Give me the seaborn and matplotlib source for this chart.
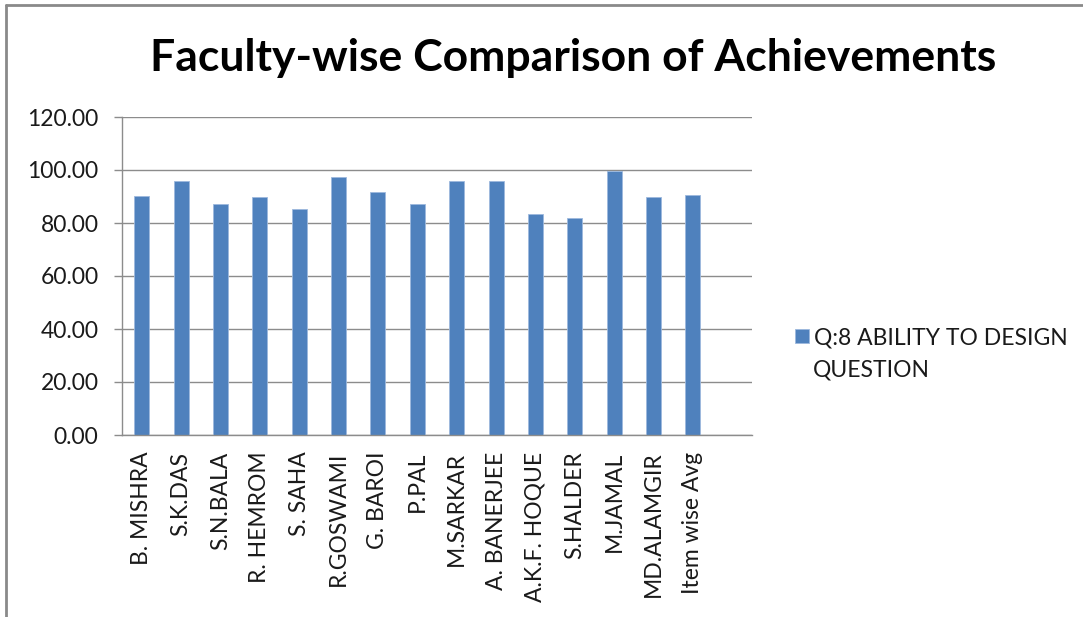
import numpy as np
import pandas as pd
import matplotlib
matplotlib.use('Agg')
import matplotlib.pyplot as plt
import seaborn as sns

# --- dados ---
faculdade = ['B. MISHRA', 'S.K.DAS', 'S.N.BALA', 'R. HEMROM', 'S. SAHA',
             'R.GOSWAMI', 'G. BAROI', 'P.PAL', 'M.SARKAR', 'A. BANERJEE',
             'A.K.F. HOQUE', 'S.HALDER', 'M.JAMAL', 'MD.ALAMGIR', 'Item wise Avg']
valores = [90.2, 95.7, 87.3, 89.7, 85.4, 97.5, 91.7, 87.3, 95.7, 95.7,
           83.4, 82.0, 99.7, 89.7, 90.7]
serie_linhas = ['Q:8 ABILITY TO DESIGN', 'QUESTION']
y_ticks = [0, 20, 40, 60, 80, 100, 120]

cor_barra = '#4F81BD'
cor_grade = '#8C8C8C'
cor_texto = '#1A1A1A'

sns.set_style('white')
plt.rcParams['font.family'] = ['Lato', 'DejaVu Sans']

df = pd.DataFrame({'nome': faculdade, 'valor': valores})

fig = plt.figure(figsize=(10.83, 6.17), dpi=100)
ax = fig.add_axes([122 / 1083, 1 - 435 / 617, 630 / 1083, 318 / 617])

sns.barplot(data=df, x='nome', y='valor', color=cor_barra, width=0.38,
            saturation=1, edgecolor='#9DB9DE', linewidth=0.6, ax=ax,
            label=serie_linhas[0])

ax.set_xlim(-0.5, 15.5)
ax.set_ylim(0, 120)
ax.set_yticks(y_ticks)
ax.set_yticklabels([f'{v:.2f}' for v in y_ticks], fontsize=16.5, color=cor_texto)
ax.yaxis.grid(True, color=cor_grade, linewidth=1)
ax.set_axisbelow(True)

# ticks do eixo x nos limites das categorias (estilo Excel)
ax.set_xticks(np.arange(-0.5, 16, 1))
ax.set_xticklabels([])
ax.set_xticks(np.arange(len(faculdade)), minor=True)
ax.set_xticklabels(faculdade, minor=True, rotation=90, fontsize=16.5,
                   color=cor_texto, va='top', ha='center')
ax.tick_params(axis='x', which='major', length=6, color=cor_grade, width=1)
ax.tick_params(axis='x', which='minor', length=0, pad=12)
ax.tick_params(axis='y', length=6, color=cor_grade, width=1, left=True, pad=11)

for lado in ['top', 'right']:
    ax.spines[lado].set_visible(False)
for lado in ['left', 'bottom']:
    ax.spines[lado].set_color(cor_grade)
    ax.spines[lado].set_linewidth(1)

ax.set_xlabel('')
ax.set_ylabel('')

# legenda: primeira linha com o marcador, segunda linha como texto solto
leg = ax.legend(loc='upper left', bbox_to_anchor=(795 / 1083, 1 - 327 / 617),
                bbox_transform=fig.transFigure, frameon=False, fontsize=16.5,
                handlelength=0.6, handleheight=0.6, handletextpad=0.25,
                borderaxespad=0, borderpad=0, labelcolor=cor_texto)
fig.text(813 / 1083, 1 - 370 / 617, serie_linhas[1], ha='left', va='center',
         fontsize=16.5, color=cor_texto)

fig.text(573 / 1083, 1 - 58 / 617, 'Faculty-wise Comparison of Achievements',
         ha='center', va='center', fontsize=32, fontweight='bold', color='black')

# moldura do gráfico
fig.add_artist(plt.Line2D([6 / 1083, 6 / 1083], [0, 1 - 5 / 617],
                          transform=fig.transFigure, color='#8A8A8A', linewidth=2))
fig.add_artist(plt.Line2D([6 / 1083, 1], [1 - 5 / 617, 1 - 5 / 617],
                          transform=fig.transFigure, color='#8A8A8A', linewidth=2))

fig.savefig('out.png', dpi=100)
